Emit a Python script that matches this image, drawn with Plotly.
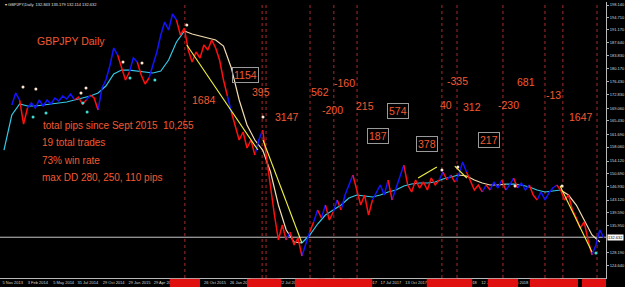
import plotly.graph_objects as go
import pandas as pd

# ---------------- data ----------------
price_start = "2013-12-10"
price_values = [
    169.93, 173.31, 171.34, 164.57, 169.08, 170.49, 169.08, 171.34, 169.65, 171.34,
    170.21, 171.90, 171.06, 172.47, 171.62, 173.03, 171.34, 172.19, 170.21, 171.34,
    172.75, 171.90, 168.52, 174.72, 176.98, 180.93, 186.01, 184.03, 180.37, 176.98,
    179.24, 183.19, 182.06, 178.39, 175.85, 177.55, 181.21, 184.88, 189.68, 193.34,
    191.09, 195.60, 193.91, 189.68, 191.65, 185.45, 182.06, 184.88, 183.19, 186.86,
    185.45, 188.27, 186.01, 182.62, 176.98, 172.47, 167.96, 164.29, 160.06, 162.31,
    157.80, 160.06, 155.83, 160.06, 162.88, 154.41, 145.95, 138.90, 131.85, 136.08,
    131.85, 134.10, 130.44, 132.41, 127.33, 130.44, 134.10, 136.93, 140.31, 138.05,
    141.72, 137.49, 139.75, 143.13, 140.31, 144.54, 147.36, 150.18, 145.95, 141.72,
    144.54, 138.90, 143.13, 145.39, 147.36, 144.54, 148.77, 143.13, 146.52, 150.18,
    153.00, 147.36, 145.39, 148.77, 146.52, 148.21, 145.95, 149.34, 147.36, 148.77,
    151.03, 148.77, 150.18, 148.21, 150.18, 153.85, 151.03, 148.21, 145.95, 147.36,
    145.39, 147.36, 145.95, 148.21, 146.52, 148.77, 145.95, 147.36, 149.34, 146.52,
    147.93, 145.95, 147.36, 144.54, 143.13, 145.39, 143.13, 145.11, 146.52, 147.36,
    145.95, 143.13, 144.54, 140.31, 138.05, 135.23, 136.93, 131.85, 127.62, 130.44,
    134.67, 132.41,
]
price_trend = ("bbbrrbbbbb" "bbbbbbbrrr" "brrbbbbbrr" "rbbrrrbbbb" "bbbrrrrrrr"
               "rrrrrrbrrr" "rrrbbrrrrr" "rbrrrbbrbr" "brrbrbbbrr" "rrrbbbbrbb"
               "brrrrrrrrr" "brbrbbbrrr" "rbrbbbrbbr" "bbbrrbbbbb" "rrrrrrrrrb" "bb")

ma_start = "2013-11-12"
ma_values = [
    157.23, 167.11, 170.21, 169.65, 169.65, 169.93, 170.21, 170.49, 170.78, 171.34,
    171.90, 172.47, 173.31, 175.29, 178.67, 179.80, 179.80, 179.52, 179.24, 178.96,
    179.52, 182.62, 187.70, 190.80, 189.96, 189.39, 188.83, 188.27, 186.57, 180.37,
    171.34, 164.29, 160.06, 157.23, 151.03, 141.72, 134.67, 131.28, 131.00, 133.26,
    136.36, 138.90, 140.31, 141.72, 143.70, 144.54, 144.26, 143.98, 144.54, 145.39,
    145.95, 147.08, 147.64, 147.93, 147.93, 148.21, 149.06, 149.62, 150.18, 149.90,
    148.77, 147.93, 147.36, 147.36, 147.64, 147.64, 147.36, 146.80, 145.95, 145.39,
    145.67, 145.95, 144.54, 141.72, 137.49, 133.26, 131.28,
]
ma_trend = "c" * 24 + "w" * 15 + "c" * 20 + "w" * 6 + "c" * 7 + "w" * 5

trade_open_dates = ["2015-08-27", "2016-05-25", "2017-11-30", "2018-04-10", "2019-04-21"]
trade_open_prices = [186.86, 160.06, 149.34, 152.72, 147.08]
trade_close_dates = ["2016-05-07", "2016-10-11", "2018-02-05", "2018-05-23", "2019-08-13"]
trade_close_prices = [157.23, 131.00, 152.44, 149.34, 128.46]

sell_dot_dates = ["2014-01-19", "2014-03-06", "2014-08-14", "2014-09-01", "2015-01-11",
                  "2015-03-20", "2015-08-27", "2016-05-25", "2018-02-23", "2018-04-21",
                  "2018-11-11", "2019-04-28"]
sell_dot_prices = [175.01, 174.44, 173.31, 174.72, 182.06, 181.78, 192.50, 166.55,
                   151.59, 152.44, 147.08, 147.08]
buy_dot_dates = ["2014-02-24", "2014-04-11", "2014-08-21", "2014-09-05", "2015-02-05",
                 "2015-05-05", "2019-08-27"]
buy_dot_prices = [166.55, 167.67, 170.49, 167.96, 177.55, 176.98, 128.18]

vline_dates = ["2015-08-20", "2016-05-22", "2016-06-05", "2016-11-09", "2017-02-02",
               "2017-04-26", "2018-02-23", "2018-04-18", "2018-09-29", "2019-02-26",
               "2019-05-01", "2019-08-31"]

date_tick_dates = ["2013-11-05", "2014-02-03", "2014-05-05", "2014-07-31", "2014-10-29",
                   "2015-01-29", "2015-04-29", "2015-07-28", "2015-10-26", "2016-01-26",
                   "2016-04-22", "2016-07-22", "2016-10-19", "2017-01-18", "2017-04-18",
                   "2017-07-17", "2017-10-13", "2018-01-11", "2018-04-11", "2018-07-12",
                   "2018-10-10", "2019-01-09", "2019-04-09", "2019-07-09"]
date_tick_labels = ["5 Nov 2013", "3 Feb 2014", "5 May 2014", "31 Jul 2014", "29 Oct 2014",
                    "29 Jan 2015", "29 Apr 2015", "28 Jul 2015", "26 Oct 2015", "26 Jan 2016",
                    "22 Apr 2016", "22 Jul 2016", "19 Oct 2016", "18 Jan 2017", "18 Apr 2017",
                    "17 Jul 2017", "13 Oct 2017", "11 Jan 2018", "11 Apr 2018", "12 Jul 2018",
                    "10 Oct 2018", "9 Jan 2019", "9 Apr 2019", "9 Jul 2019"]

price_ticks = [198.140, 194.710, 191.170, 187.640, 183.830, 180.170, 176.430, 172.830,
               169.060, 165.430, 161.690, 158.060, 154.120, 150.690, 146.930, 143.120,
               139.590, 135.950, 128.190, 124.640, 121.120]

last_price = 132.632
header = "GBPJPY,Daily  132.843 133.179 132.114 132.632"

trade_results = ["1684", "1154", "395", "3147", "562", "-160", "-200", "215", "187", "574",
                 "378", "40", "-335", "312", "217", "-230", "681", "-13", "1647"]
trade_boxed = [False, True, False, False, False, False, False, False, True, True,
               True, False, False, False, True, False, False, False, False]

notes = ["total pips since Sept 2015  10,255", "19 total trades", "73% win rate",
         "max DD 280, 250, 110 pips"]

# ---------------- layout geometry (pixels) ----------------
W, H = 625, 287
PL, PR, PT, PB = 0, 606, 2, 278
label_px = [(204, 100), (245, 75), (261, 92), (287, 117), (320, 92), (344, 83), (332, 110),
            (365, 106), (378, 136), (398, 111), (427, 144), (446, 105), (457, 81), (472, 107),
            (489, 140), (508, 105), (526, 82), (553, 95), (581, 117)]
note_px = [(41, 125), (40, 142), (40, 160), (40, 178)]

def pxp(x, y):
    return (x - PL) / (PR - PL), (PB - y) / (PB - PT)

TXT = "#f25a32"
FONT = "Arial, Liberation Sans, sans-serif"

price_dates = pd.date_range(price_start, periods=len(price_values), freq="14D")
ma_dates = pd.date_range(ma_start, periods=len(ma_values), freq="28D")


def split(dates, vals, flags, key):
    xs, ys = [], []
    last = None
    for i in range(1, len(vals)):
        if flags[i] != key:
            continue
        if last != i - 1:
            if xs:
                xs.append(None); ys.append(None)
            xs.append(dates[i - 1]); ys.append(vals[i - 1])
        xs.append(dates[i]); ys.append(vals[i])
        last = i
    return xs, ys


fig = go.Figure()

# MA line
for key, col in (("c", "#35c8e6"), ("w", "#f3dcb0")):
    xs, ys = split(ma_dates, ma_values, ma_trend, key)
    fig.add_trace(go.Scatter(x=xs, y=ys, mode="lines", line=dict(color=col, width=1.2),
                             hoverinfo="skip", showlegend=False))

# price line
for key, col in (("b", "#1414ff"), ("r", "#ff1010")):
    xs, ys = split(price_dates, price_values, price_trend, key)
    fig.add_trace(go.Scatter(x=xs, y=ys, mode="lines", line=dict(color=col, width=1.5),
                             hoverinfo="skip", showlegend=False))

# trade lines
for d0, p0, d1, p1 in zip(trade_open_dates, trade_open_prices, trade_close_dates, trade_close_prices):
    fig.add_trace(go.Scatter(x=[d0, d1], y=[p0, p1], mode="lines",
                             line=dict(color="#f0f040", width=1.1),
                             hoverinfo="skip", showlegend=False))

# signal dots
fig.add_trace(go.Scatter(x=sell_dot_dates, y=sell_dot_prices, mode="markers",
                         marker=dict(color="#ffe6d0", size=3), showlegend=False, hoverinfo="skip"))
fig.add_trace(go.Scatter(x=buy_dot_dates, y=buy_dot_prices, mode="markers",
                         marker=dict(color="#40d8d0", size=3), showlegend=False, hoverinfo="skip"))

shapes = []
for d in vline_dates:
    shapes.append(dict(type="line", xref="x", yref="paper", x0=d, x1=d, y0=0, y1=1,
                       line=dict(color="#a82a2a", width=1, dash="dot"), layer="below"))
# current price line
shapes.append(dict(type="line", xref="paper", yref="y", x0=0, x1=1, y0=last_price, y1=last_price,
                   line=dict(color="#c8c8c8", width=1), layer="below"))
# red labels of vertical lines on time scale
for d in vline_dates:
    c = pd.Timestamp(d)
    shapes.append(dict(type="rect", xref="x", yref="paper",
                       x0=c - pd.Timedelta(days=54), x1=c + pd.Timedelta(days=54),
                       y0=-0.033, y1=-0.003, fillcolor="#e01010", line=dict(width=0),
                       layer="above"))

annotations = []
hx, hy = pxp(3, 4)
annotations.append(dict(xref="paper", yref="paper", x=hx, y=hy, xanchor="left", yanchor="middle",
                        text="▾ " + header, showarrow=False,
                        font=dict(family=FONT, size=4, color="#e0e0e0")))
tx, ty = pxp(35, 41)
annotations.append(dict(xref="paper", yref="paper", x=tx, y=ty, xanchor="left", yanchor="middle",
                        text="GBPJPY Daily", showarrow=False,
                        font=dict(family=FONT, size=10.5, color=TXT)))
for t, (x, y) in zip(notes, note_px):
    ax_, ay_ = pxp(x, y)
    annotations.append(dict(xref="paper", yref="paper", x=ax_, y=ay_, xanchor="left",
                            yanchor="middle", text=t, showarrow=False,
                            font=dict(family=FONT, size=10, color=TXT)))
for t, b, (x, y) in zip(trade_results, trade_boxed, label_px):
    ax_, ay_ = pxp(x, y)
    a = dict(xref="paper", yref="paper", x=ax_, y=ay_, xanchor="center", yanchor="middle",
             text=t, showarrow=False, font=dict(family=FONT, size=10.5, color=TXT))
    if b:
        a.update(bordercolor="#9a9a9a", borderwidth=1, borderpad=1)
    annotations.append(a)
# last price box
annotations.append(dict(xref="paper", yref="y", x=1, y=last_price, xanchor="left", yanchor="middle",
                        xshift=1, text="%.3f" % last_price, showarrow=False, bgcolor="#ffffff",
                        font=dict(family=FONT, size=4, color="#000000"), borderpad=0))

fig.update_layout(
    width=W, height=H,
    margin=dict(l=PL, r=W - PR, t=PT, b=H - PB),
    paper_bgcolor="#000000", plot_bgcolor="#000000",
    shapes=shapes, annotations=annotations,
    xaxis=dict(type="date", range=["2013-10-28 20:00", "2019-10-02"],
               tickvals=date_tick_dates, ticktext=date_tick_labels,
               ticklabelposition="outside right", tickangle=0,
               tickfont=dict(family=FONT, size=4, color="#d8d8d8"),
               ticks="", ticklabelstandoff=0,
               showgrid=False, zeroline=False, showline=True, linecolor="#b8b8b8", linewidth=1,
               automargin=False),
    yaxis=dict(side="right", range=[121.13, 198.99], tickvals=price_ticks,
               ticktext=["%.3f" % v for v in price_ticks],
               tickfont=dict(family=FONT, size=4, color="#d8d8d8"),
               ticks="outside", ticklen=2, tickcolor="#b0b0b0",
               showgrid=False, zeroline=False, showline=True, linecolor="#b8b8b8", linewidth=1,
               automargin=False),
)

fig.write_html("out.html")
